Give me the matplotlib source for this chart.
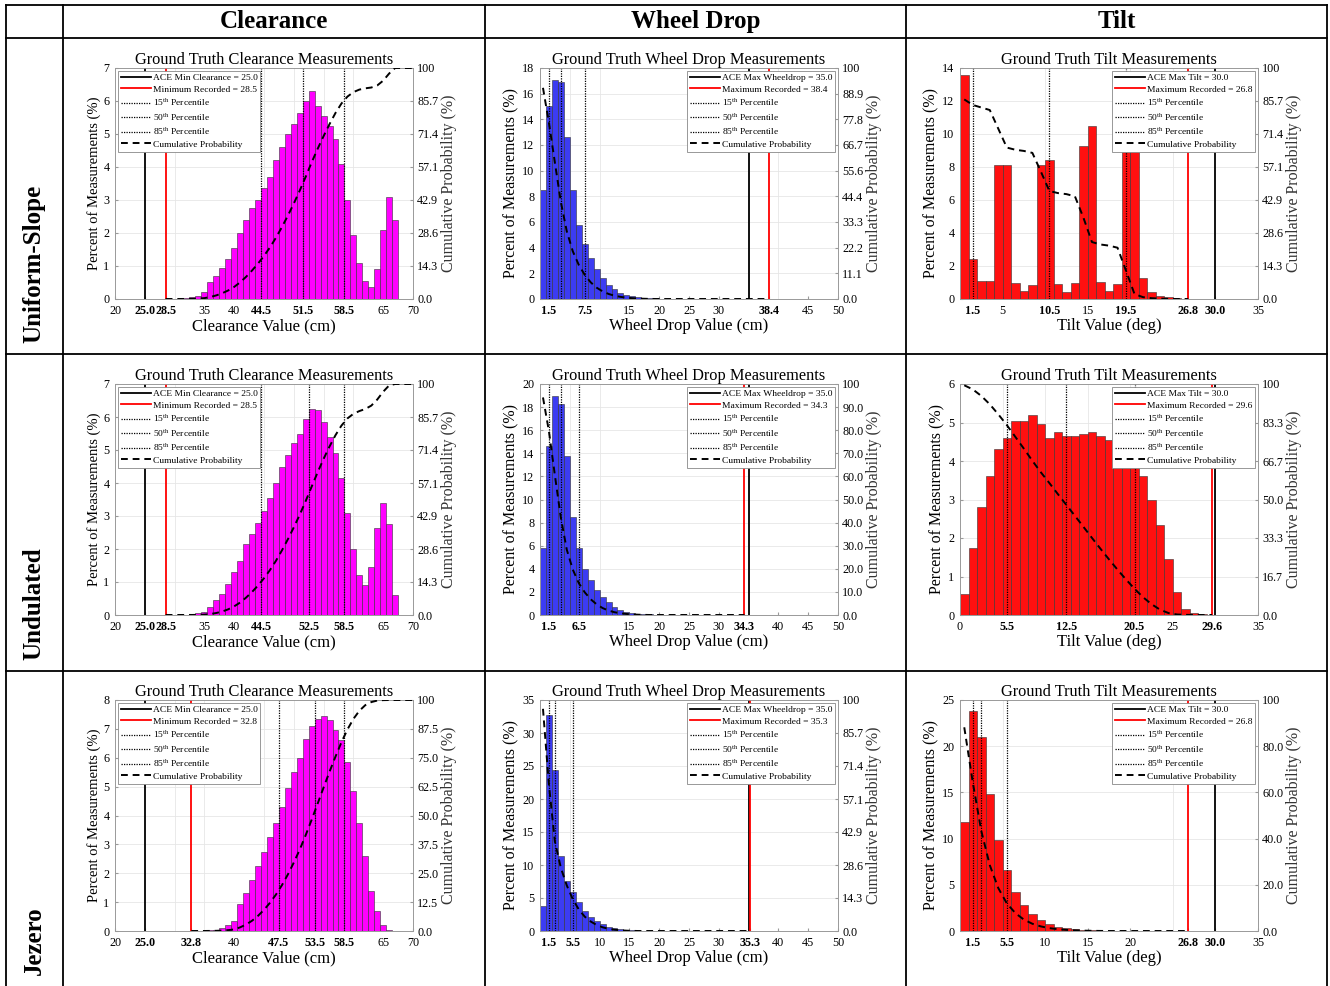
import matplotlib.pyplot as plt
import numpy as np
from matplotlib.lines import Line2D

plt.rcParams['font.family'] = 'Liberation Serif'
plt.rcParams['mathtext.fontset'] = 'custom'
plt.rcParams['mathtext.rm'] = 'Liberation Serif'

# ---- data (percent of measurements per 1-unit bin) ----
terrains = ['Uniform-Slope', 'Undulated', 'Jezero']
metrics = ['Clearance', 'Wheel Drop', 'Tilt']

# clearance, bins centred on whole cm
us_clear = [0.01, 0.02, 0.05, 0.1, 0.2, 0.5, 0.7, 0.95, 1.2, 1.55, 2.0, 2.4, 2.75, 3.0,
            3.35, 3.7, 4.2, 4.6, 5.0, 5.3, 5.65, 6.0,
            6.3, 5.85, 5.55, 5.25, 4.85, 4.1,
            3.0, 1.95, 1.1, 0.55, 0.35, 0.9, 2.1, 3.1, 2.4]
un_clear = [0.02, 0.05, 0.1, 0.25, 0.45, 0.65, 0.95, 1.3, 1.65, 2.15, 2.45, 2.8,
            3.15, 3.55, 4.0, 4.5, 4.85, 5.2, 5.5, 5.95,
            6.25, 6.2, 5.85, 5.4, 4.9, 4.15,
            3.1, 2.0, 1.2, 0.9, 1.45, 2.65, 3.4, 2.75, 0.6]
jz_clear = [0.01, 0.03, 0.05, 0.1, 0.2, 0.35, 0.95, 1.3, 1.75, 2.25, 2.75, 3.25, 3.75,
            4.3, 4.95, 5.5, 6.0, 6.65, 7.1,
            7.35, 7.45, 7.3, 6.95, 6.6,
            5.85, 4.85, 3.75, 2.6, 1.4, 0.7, 0.2, 0.05, 0.01]
clear_first = [31, 33, 35]  # centre of first bin

# wheel drop, bins start at 0 cm
us_wdrop = [8.5, 15.0, 17.1, 16.9, 12.6, 8.5, 5.8, 4.3, 3.2, 2.3, 1.6, 1.1, 0.75, 0.5,
            0.35, 0.22, 0.15, 0.1, 0.06, 0.04]
un_wdrop = [5.8, 14.6, 19.0, 18.3, 13.8, 8.5, 5.8, 4.0, 3.0, 2.2, 1.6, 1.1, 0.7, 0.45,
            0.3, 0.2, 0.12, 0.08, 0.05]
jz_wdrop = [3.8, 32.8, 24.4, 11.3, 7.6, 5.9, 4.4, 3.1, 2.1, 1.5, 1.0, 0.65, 0.4, 0.25,
            0.15, 0.1, 0.05]

# tilt, bins start at 0 deg
us_tilt = [13.6, 2.4, 1.1, 1.1, 8.1, 8.15, 0.95, 0.5, 0.85, 8.1, 8.4, 0.9, 0.45, 0.95,
           9.3, 10.5, 1.05, 0.5, 0.9, 10.0, 10.1, 1.3, 0.45, 0.2, 0.1, 0.05]
un_tilt = [0.55, 1.75, 2.8, 3.6, 4.3, 4.6, 5.05, 5.05, 5.2, 4.95, 4.6, 4.75, 4.65, 4.65,
           4.7, 4.75, 4.65, 4.55, 4.4, 4.2, 4.0, 3.6, 3.0, 2.35, 1.45, 0.6, 0.15, 0.05, 0.02]
jz_tilt = [11.8, 23.8, 21.0, 14.8, 9.9, 6.6, 4.2, 2.8, 1.8, 1.15, 0.75, 0.45, 0.3, 0.2,
           0.12, 0.08, 0.05, 0.03]

# 15th / 50th / 85th percentiles
clear_pct = [[44.5, 51.5, 58.5], [44.5, 52.5, 58.5], [47.5, 53.5, 58.5]]
wdrop_pct = [[1.5, 3.5, 7.5], [1.5, 3.5, 6.5], [1.5, 2.5, 5.5]]
tilt_pct = [[1.5, 10.5, 19.5], [5.5, 12.5, 20.5], [1.5, 2.5, 5.5]]

ace_limit = [25.0, 35.0, 30.0]
clear_rec = [28.5, 28.5, 32.8]
wdrop_rec = [38.4, 34.3, 35.3]
tilt_rec = [26.8, 29.6, 26.8]

clear_ymax = [7, 7, 8]
clear_ystep = [1, 1, 1]
wdrop_ymax = [18, 20, 35]
wdrop_ystep = [2, 2, 5]
tilt_ymax = [14, 6, 25]
tilt_ystep = [2, 1, 5]

clear_xlabels = [['20', '25.0', '28.5', '35', '40', '44.5', '51.5', '58.5', '65', '70'],
                 ['20', '25.0', '28.5', '35', '40', '44.5', '52.5', '58.5', '65', '70'],
                 ['20', '25.0', '32.8', '40', '47.5', '53.5', '58.5', '65', '70']]
wdrop_xlabels = [['1.5', '7.5', '15', '20', '25', '30', '38.4', '45', '50'],
                 ['1.5', '6.5', '15', '20', '25', '30', '34.3', '40', '45', '50'],
                 ['1.5', '5.5', '10', '15', '20', '25', '30', '35.3', '40', '45', '50']]
tilt_xlabels = [['1.5', '5', '10.5', '15', '19.5', '26.8', '30.0', '35'],
                ['0', '5.5', '12.5', '20.5', '25', '29.6', '35'],
                ['1.5', '5.5', '10', '15', '20', '26.8', '30.0', '35']]

cfg = {
    'Clearance': dict(hist=[us_clear, un_clear, jz_clear], first=clear_first,
                      pct=clear_pct, rec=clear_rec, ymax=clear_ymax, ystep=clear_ystep,
                      xlabels=clear_xlabels, xlim=(20, 70), color='#ff00ff',
                      ace='ACE Min Clearance', rec_name='Minimum Recorded',
                      xlabel='Clearance Value (cm)', rising=True, loc='upper left',
                      title='Ground Truth Clearance Measurements', ylsize=10.5),
    'Wheel Drop': dict(hist=[us_wdrop, un_wdrop, jz_wdrop], first=[0.5, 0.5, 0.5],
                       pct=wdrop_pct, rec=wdrop_rec, ymax=wdrop_ymax, ystep=wdrop_ystep,
                       xlabels=wdrop_xlabels, xlim=(0, 50), color='#3c3cf2',
                       ace='ACE Max Wheeldrop', rec_name='Maximum Recorded',
                       xlabel='Wheel Drop Value (cm)', rising=False, loc='upper right',
                       title='Ground Truth Wheel Drop Measurements', ylsize=11.5),
    'Tilt': dict(hist=[us_tilt, un_tilt, jz_tilt], first=[0.5, 0.5, 0.5],
                 pct=tilt_pct, rec=tilt_rec, ymax=tilt_ymax, ystep=tilt_ystep,
                 xlabels=tilt_xlabels, xlim=(0, 35), color='#ff1010',
                 ace='ACE Max Tilt', rec_name='Maximum Recorded',
                 xlabel='Tilt Value (deg)', rising=False, loc='upper right',
                 title='Ground Truth Tilt Measurements', ylsize=11.5),
}

# ---- layout (pixels) ----
W, H = 1330, 986
fig = plt.figure(figsize=(W / 100, H / 100), dpi=100)


def fx(px):
    return px / W


def fy(py):
    return 1 - py / H


for y in [5, 38, 354, 671]:
    fig.add_artist(Line2D([fx(6), fx(1327)], [fy(y), fy(y)], color='k', lw=1.3))
for x in [6, 63, 485, 906, 1327]:
    fig.add_artist(Line2D([fx(x), fx(x)], [fy(5), fy(986)], color='k', lw=1.3))

cell_x = [63, 485, 906, 1327]
for c, name in enumerate(metrics):
    fig.text(fx((cell_x[c] + cell_x[c + 1]) / 2), fy(21.5), name, ha='center',
             va='center', fontsize=18, fontweight='bold')
row_bottom = [354, 671, 986]
for r, name in enumerate(terrains):
    fig.text(fx(34), fy(row_bottom[r] - 11), name, rotation=90, ha='center',
             va='bottom', fontsize=18, fontweight='bold')

col_left = [115, 540, 960]
row_top = [68, 384, 700]
ax_w, ax_h = 298, 231
grey = '#9a9a9a'

for r in range(3):
    for c, m in enumerate(metrics):
        p = cfg[m]
        heights = np.array(p['hist'][r])
        ace = ace_limit[c]
        rec = p['rec'][r]
        ax = fig.add_axes([fx(col_left[c]), fy(row_top[r] + ax_h), ax_w / W, ax_h / H])
        centers = p['first'][r] + np.arange(len(heights))
        ax.bar(centers, heights, width=1.0, color=p['color'], edgecolor='#333333',
               linewidth=0.4, zorder=2)
        for q in p['pct'][r]:
            ax.axvline(q, color='k', lw=0.9, ls=(0, (1, 1)), zorder=3)
        ax.axvline(ace, color='k', lw=1.3, zorder=3)
        ax.axvline(rec, color='red', lw=1.3, zorder=3)

        ax.set_xlim(*p['xlim'])
        ax.set_ylim(0, p['ymax'][r])
        ax.set_yticks(np.arange(0, p['ymax'][r] + 0.1, p['ystep'][r]))
        xl = p['xlabels'][r]
        ax.set_xticks([float(s) for s in xl])
        ax.set_xticklabels(xl)
        for lbl in ax.get_xticklabels():
            if '.' in lbl.get_text():
                lbl.set_fontweight('bold')
        ax.set_xticks(np.arange(p['xlim'][0], p['xlim'][1] + 0.1, 5), minor=True)
        ax.grid(which='minor', axis='x', color='#e6e6e6', lw=0.6, zorder=0)
        ax.grid(which='major', axis='y', color='#e6e6e6', lw=0.6, zorder=0)
        ax.set_axisbelow(True)
        ax.tick_params(which='both', direction='in', length=2, labelsize=8.7,
                       color=grey, pad=4)
        ax.tick_params(which='minor', length=0)
        ax.set_xlabel(p['xlabel'], fontsize=12, labelpad=1)
        ax.set_ylabel('Percent of Measurements (%)', fontsize=p['ylsize'], labelpad=2)
        ax.set_title(p['title'], fontsize=11.8, pad=2)

        # cumulative / exceedance curve on the right axis
        cum = np.cumsum(heights) / heights.sum() * 100
        if p['rising']:
            cx = np.r_[rec, centers, p['xlim'][1]]
            cy = np.r_[0, cum, 100]
        else:
            cx = np.r_[centers, rec]
            cy = np.r_[100 - cum, 0]
        ax2 = ax.twinx()
        ax2.plot(cx, cy, color='k', lw=1.4, ls=(0, (3.5, 2.5)), zorder=4)
        ax2.set_ylim(0, 100)
        n = int(round(p['ymax'][r] / p['ystep'][r]))
        rt = np.linspace(0, 100, n + 1)
        ax2.set_yticks(rt)
        ax2.set_yticklabels(['100' if v >= 100 else f'{v:.1f}' for v in rt])
        ax2.tick_params(direction='in', length=2, labelsize=8.7, color=grey, pad=3)
        ax2.set_ylabel('Cumulative Probability (%)', fontsize=11.5, color='#333333',
                       labelpad=2)
        for a in (ax, ax2):
            for s in a.spines.values():
                s.set_color(grey)
                s.set_linewidth(0.6)

        handles = [Line2D([], [], color='k', lw=1.3),
                   Line2D([], [], color='red', lw=1.3),
                   Line2D([], [], color='k', lw=0.9, ls=(0, (1, 1))),
                   Line2D([], [], color='k', lw=0.9, ls=(0, (1, 1))),
                   Line2D([], [], color='k', lw=0.9, ls=(0, (1, 1))),
                   Line2D([], [], color='k', lw=1.4, ls=(0, (3.5, 2.5)))]
        labels = [f"{p['ace']} = {ace:.1f}", f"{p['rec_name']} = {rec:.1f}",
                  r'15$^{\rm th}$ Percentile', r'50$^{\rm th}$ Percentile',
                  r'85$^{\rm th}$ Percentile', 'Cumulative Probability']
        leg = ax2.legend(handles, labels, loc=p['loc'], fontsize=6.8, frameon=True,
                         fancybox=False, edgecolor='#888888', framealpha=1,
                         borderpad=0.3, labelspacing=0.3, handlelength=3.2,
                         handletextpad=0.2, borderaxespad=0.3)
        leg.get_frame().set_linewidth(0.6)

fig.savefig('out.png', dpi=100)
